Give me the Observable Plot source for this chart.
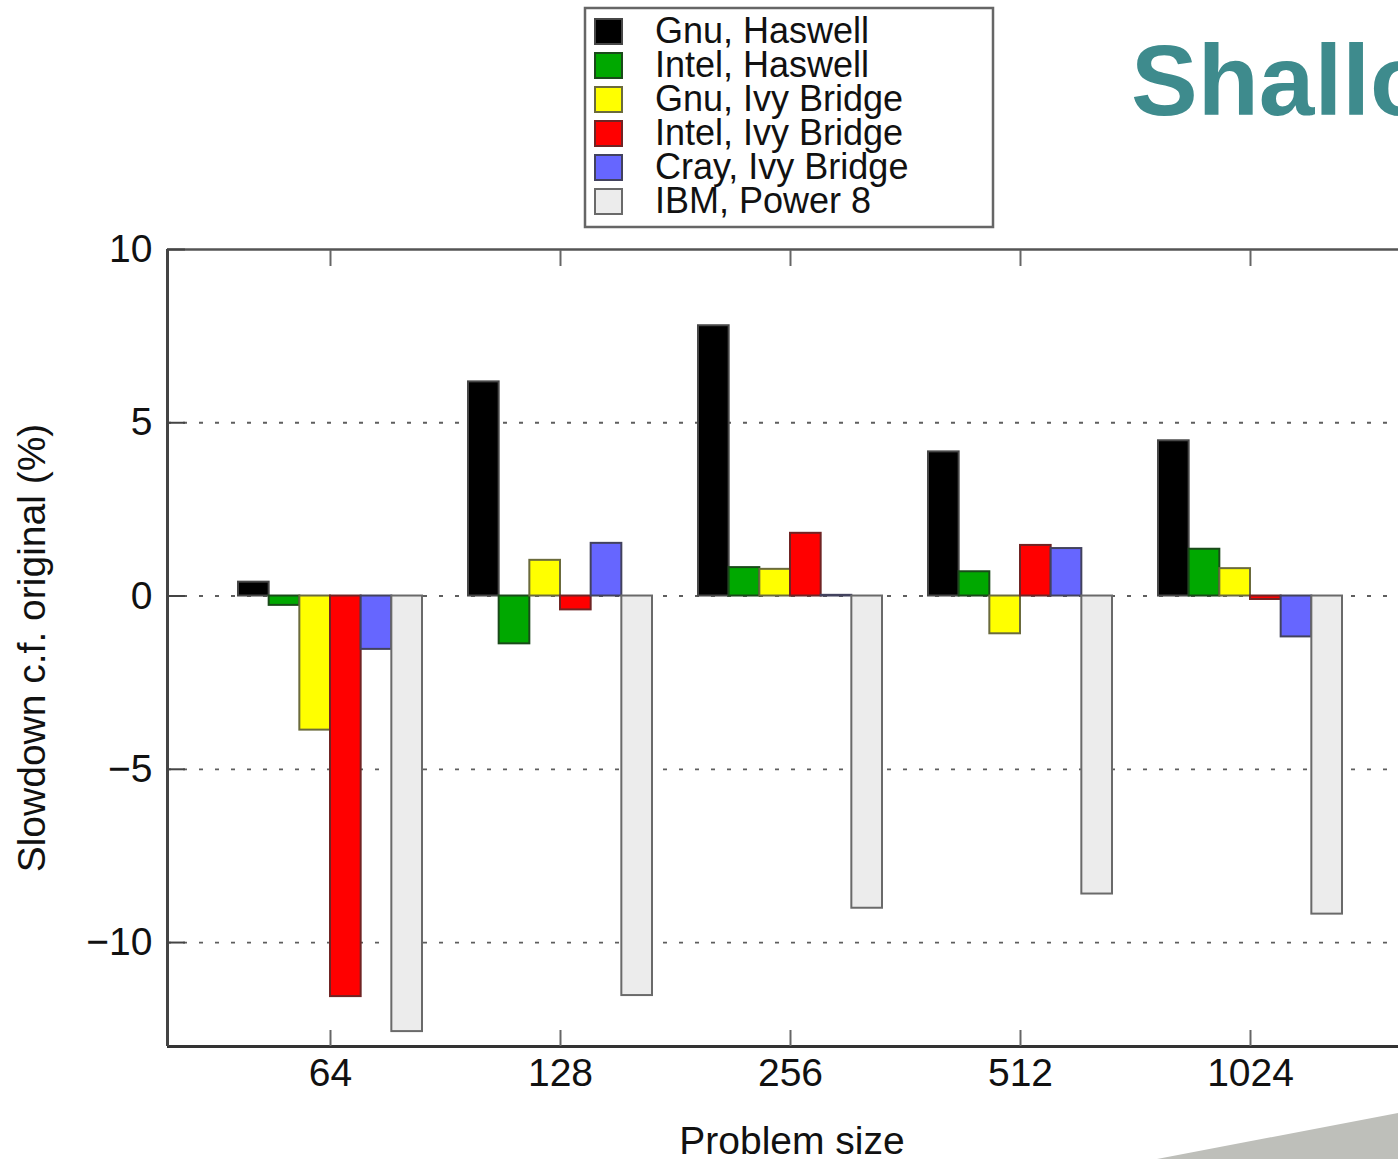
<!DOCTYPE html>
<html><head><meta charset="utf-8">
<script src="https://cdn.jsdelivr.net/npm/d3@7"></script>
<script src="https://cdn.jsdelivr.net/npm/@observablehq/plot@0.6"></script>
<style>
html,body{margin:0;padding:0;background:#fff;overflow:hidden;width:1398px;height:1159px;}
#wrap{position:relative;width:1398px;height:1159px;overflow:hidden;}
#wrap > svg{position:absolute;left:0;top:0;}
#overlay{pointer-events:none;}
</style></head><body><div id="wrap"></div>
<script>
// ---- data ----
const sizes = ["64", "128", "256", "512", "1024"];
const series = ["Gnu, Haswell", "Intel, Haswell", "Gnu, Ivy Bridge", "Intel, Ivy Bridge", "Cray, Ivy Bridge", "IBM, Power 8"];
const gnuHaswell   = [0.40, 6.18, 7.80, 4.16, 4.48];
const intelHaswell = [-0.27, -1.38, 0.82, 0.70, 1.35];
const gnuIvy       = [-3.87, 1.03, 0.77, -1.09, 0.79];
const intelIvy     = [-11.56, -0.40, 1.81, 1.46, -0.10];
const crayIvy      = [-1.54, 1.52, 0.02, 1.37, -1.18];
const ibmPower8    = [-12.57, -11.53, -9.01, -8.60, -9.18];
const yTicks = [-10, -5, 0, 5, 10];
const titleText = "Shallow";
const xLabel = "Problem size";
const yLabel = "Slowdown c.f. original (%)";

// ---- styles ----
const fills   = ["#000000", "#00a800", "#ffff00", "#ff0000", "#6666ff", "#ececec"];
const strokes = ["#474747", "#1a4a1a", "#6b6b3c", "#702424", "#42425e", "#6a6a6a"];
const font = "'Liberation Sans', Arial, Helvetica, sans-serif";

const values = [gnuHaswell, intelHaswell, gnuIvy, intelIvy, crayIvy, ibmPower8];
const nSlots = 7.5; // group slot width (6 bars + gap)
const rows = [];
sizes.forEach((size, g) => series.forEach((s, j) => rows.push({
  g, j, size, series: s, value: values[j][g],
  x1: g + (j - 3) / nSlots, x2: g + (j - 2) / nSlots
})));

const xDomain = [-163 / 230, 4 + 148 / 230];
const yDomain = [-13, 10];
const groupTicks = sizes.map((_, i) => i);

const chart = Plot.plot({
  width: 1398, height: 1159,
  marginLeft: 167, marginRight: 0, marginTop: 249, marginBottom: 113,
  style: {fontFamily: font, fontSize: "39px", color: "#111", background: "transparent", overflow: "visible"},
  x: {domain: xDomain, axis: null},
  y: {domain: yDomain, axis: null},
  marks: [
    Plot.ruleY(yTicks.filter(d => d !== yDomain[1]), {stroke: "#5e5e5e", strokeWidth: 1.8, strokeDasharray: "4,12"}),
    ...series.map((s, j) => Plot.rect(rows.filter(r => r.j === j), {
      x1: "x1", x2: "x2", y1: 0, y2: "value",
      fill: fills[j], stroke: strokes[j], strokeWidth: 2
    })),
    Plot.ruleY([yDomain[1]], {stroke: "#555", strokeWidth: 2.5}),
    Plot.ruleY([yDomain[0]], {stroke: "#333", strokeWidth: 3}),
    Plot.ruleX([xDomain[0]], {stroke: "#444", strokeWidth: 3}),
    Plot.axisY({ticks: yTicks, anchor: "left", tickSize: -18, tickPadding: 33, stroke: "#444", strokeWidth: 2,
      fontSize: 39, fill: "#111", label: null, tickFormat: d3.format("d")}),
    Plot.axisX({ticks: groupTicks, anchor: "bottom", tickSize: -16, tickPadding: 28, stroke: "#666", strokeWidth: 2,
      fontSize: 39, fill: "#111", label: null, tickFormat: i => sizes[i]}),
    Plot.axisX({ticks: groupTicks, anchor: "top", tickSize: -16, stroke: "#666", strokeWidth: 2,
      label: null, tickFormat: () => ""}),
    Plot.text([xLabel], {text: d => d, frameAnchor: "bottom", lineAnchor: "bottom", textAnchor: "middle",
      dy: 107, dx: 9, fontSize: 39, fill: "#111"}),
    Plot.text([yLabel], {text: d => d, frameAnchor: "left", lineAnchor: "top", textAnchor: "middle",
      rotate: -90, dx: -150, fontSize: 39, fill: "#111"})
  ]
});
document.getElementById("wrap").appendChild(chart);

// ---- overlay: legend, title, decoration ----
const ov = d3.select("#wrap").append("svg").attr("id", "overlay")
  .attr("width", 1398).attr("height", 1159).style("font-family", font);
ov.append("polygon").attr("points", "1157,1159 1398,1113 1398,1159").attr("fill", "#bebfba");
ov.append("text").attr("x", 1131).attr("y", 115).attr("font-size", 100).attr("font-weight", "bold")
  .attr("fill", "#3e8b8d").text(titleText);
const lg = ov.append("g");
lg.append("rect").attr("x", 585).attr("y", 8).attr("width", 408).attr("height", 219)
  .attr("fill", "#fff").attr("stroke", "#666").attr("stroke-width", 2.5);
series.forEach((s, j) => {
  lg.append("rect").attr("x", 595).attr("y", 19 + 34 * j).attr("width", 27).attr("height", 25)
    .attr("fill", fills[j]).attr("stroke", strokes[j]).attr("stroke-width", 2);
  lg.append("text").attr("x", 655).attr("y", 43 + 34 * j).attr("font-size", 36).attr("fill", "#111").text(s);
});
</script>
</body></html>
